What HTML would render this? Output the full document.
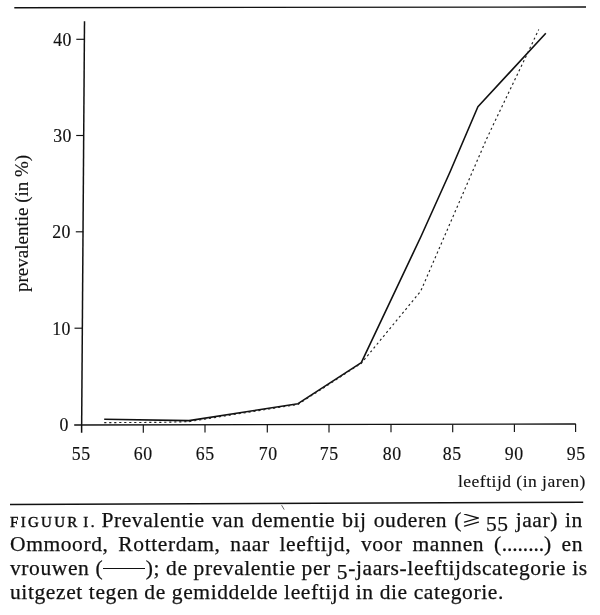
<!DOCTYPE html>
<html><head><meta charset="utf-8">
<style>
html,body{margin:0;padding:0;background:#fff;}
body{width:600px;height:615px;position:relative;overflow:hidden;-webkit-font-smoothing:antialiased;font-family:"Liberation Serif",serif;color:#111;}
svg{position:absolute;left:0;top:0;}
.t{position:absolute;white-space:pre;line-height:1;will-change:transform;-webkit-text-stroke:0.15px #111;}
.cap{will-change:transform;-webkit-text-stroke:0.25px #111;}
.yl{font-size:17.8px;letter-spacing:0.5px;text-align:right;width:40px;}
.xl{font-size:17.8px;letter-spacing:0.5px;text-indent:0.5px;text-align:center;width:40px;}
.cap{position:absolute;left:10px;width:573px;font-size:21.5px;letter-spacing:0.6px;line-height:24px;white-space:nowrap;text-align:justify;text-align-last:justify;}
.sc{font-size:15px;letter-spacing:2.3px;-webkit-text-stroke:0.45px #111;}
.os{position:relative;top:3.8px;}
</style></head><body>
<svg width="600" height="615" viewBox="0 0 600 615">
 <g stroke="#111" fill="none" stroke-linecap="butt">
  <line x1="14.3" y1="7.7" x2="586" y2="7" stroke-width="1.4"/>
  <line x1="10" y1="504.5" x2="583.2" y2="502.2" stroke-width="1.4"/>
  <!-- y axis -->
  <line x1="84.5" y1="21.2" x2="81.6" y2="432.8" stroke-width="1.5"/>
  <!-- x axis -->
  <line x1="74.2" y1="425" x2="575.8" y2="424" stroke-width="1.35"/>
  <!-- y ticks -->
  <line x1="76.3" y1="39.3" x2="84.3" y2="39.3" stroke-width="1.15"/>
  <line x1="76.2" y1="135.5" x2="84" y2="135.5" stroke-width="1.15"/>
  <line x1="75.8" y1="231.8" x2="83.3" y2="231.8" stroke-width="1.15"/>
  <line x1="74.5" y1="328.2" x2="82.5" y2="328.2" stroke-width="1.15"/>
  <!-- x ticks -->
  <line x1="143.3" y1="425" x2="143.3" y2="432.7" stroke-width="1.15"/>
  <line x1="205" y1="424.9" x2="205" y2="432.6" stroke-width="1.15"/>
  <line x1="267.3" y1="424.8" x2="267.3" y2="432.5" stroke-width="1.15"/>
  <line x1="329" y1="424.6" x2="329" y2="432.4" stroke-width="1.15"/>
  <line x1="391" y1="424.5" x2="391" y2="432.3" stroke-width="1.15"/>
  <line x1="452.7" y1="424.4" x2="452.7" y2="432.2" stroke-width="1.15"/>
  <line x1="514.4" y1="424.2" x2="514.4" y2="432.1" stroke-width="1.15"/>
  <line x1="575.6" y1="424" x2="575.6" y2="432.0" stroke-width="1.15"/>
  <!-- solid women -->
  <polyline points="104.2,419.2 189,420.6 298,403.7 361.3,362.7 421.2,236 450,172 477.9,106.8 545.8,33.3" stroke-width="1.6" stroke-linejoin="round"/>
  <!-- dotted men -->
  <polyline points="104.2,422.6 160,422.4 189,421.6 298,404.4 361.3,363.3 420.7,291.2 487,138 538.75,29.6" stroke="#222" stroke-width="1.15" stroke-dasharray="2.2 2.8"/>
 </g>
</svg>

<div class="t yl" style="left:32px;top:32px;">40</div>
<div class="t yl" style="left:31.5px;top:128px;">30</div>
<div class="t yl" style="left:31px;top:224px;">20</div>
<div class="t yl" style="left:30.5px;top:321px;">10</div>
<div class="t yl" style="left:29px;top:417px;">0</div>

<div class="t xl" style="left:61.25px;top:446px;">55</div>
<div class="t xl" style="left:122.5px;top:446px;">60</div>
<div class="t xl" style="left:184.6px;top:446px;">65</div>
<div class="t xl" style="left:247.5px;top:446px;">70</div>
<div class="t xl" style="left:309.4px;top:446px;">75</div>
<div class="t xl" style="left:371.5px;top:446px;">80</div>
<div class="t xl" style="left:432.1px;top:446px;">85</div>
<div class="t xl" style="left:494.2px;top:445.5px;">90</div>
<div class="t xl" style="left:556.2px;top:445.5px;">95</div>

<div class="t" style="left:458px;top:472.5px;font-size:17.5px;letter-spacing:0.49px;">leeftijd (in jaren)</div>
<div class="t" style="left:12.3px;top:292px;font-size:19px;transform-origin:0 0;transform:rotate(-90deg);">prevalentie (in %)</div>

<div class="cap" style="top:508px;"><span class="sc">FIGUU<span style="letter-spacing:0.6px">R </span>I<span style="letter-spacing:0">.</span></span> Prevalentie van dementie bij ouderen (<span style="display:inline-block;width:17px;height:14px;vertical-align:-1px;"><svg width="17" height="14" viewBox="0 0 17 14" style="position:static;display:block"><path d="M2.5 0.2 L16.4 4.1 L2.5 8.1 M16.4 8.1 L2.5 12.1" stroke="#111" stroke-width="1.3" fill="none" stroke-linecap="round" stroke-linejoin="miter"/></svg></span> <span class="os">55</span> jaar) in</div>
<div class="cap" style="top:532px;">Ommoord, Rotterdam, naar leeftijd, voor mannen (<span style="letter-spacing:-0.1px">........</span>) en</div>
<div class="cap" style="top:556px;">vrouwen (<span style="display:inline-block;width:42px;height:0;border-top:1.2px solid #111;vertical-align:6px;margin-right:0.6px"></span>); de prevalentie per <span class="os">5</span>-jaars-leeftijdscategorie is</div>
<div class="cap" style="top:580px;text-align:left;text-align-last:left;letter-spacing:0.6px;">uitgezet tegen de gemiddelde leeftijd in die categorie.</div>
<svg width="600" height="615" style="position:absolute;left:0;top:0"><path d="M281.6 505.2 L284.2 509.6" stroke="#555" stroke-width="0.9" fill="none"/></svg>
</body></html>
